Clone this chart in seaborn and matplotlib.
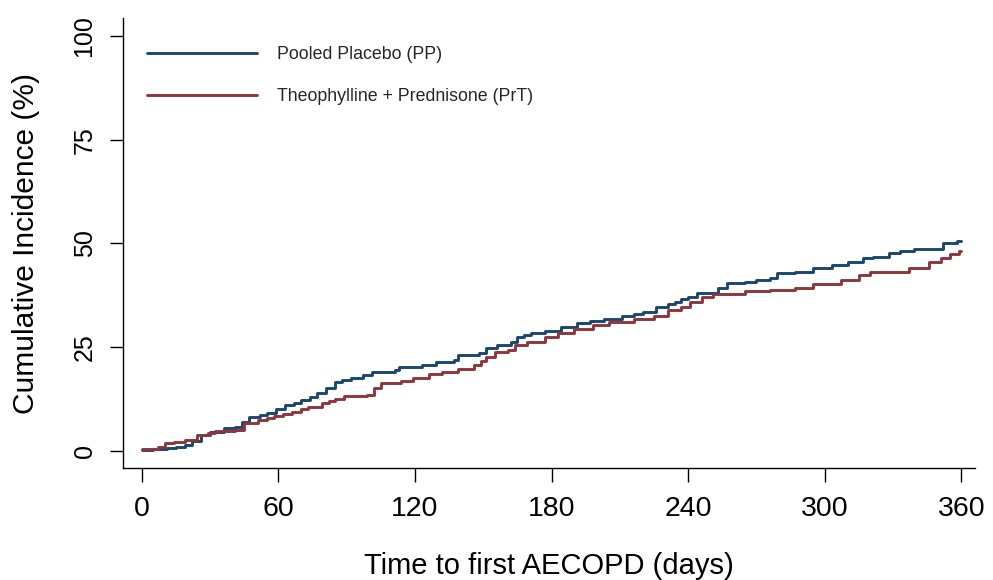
import matplotlib
matplotlib.use("Agg")
import matplotlib.pyplot as plt
import pandas as pd
import seaborn as sns

# Kaplan-Meier style cumulative incidence of first AECOPD, by treatment arm
days_pp = [0, 5, 11, 15, 19, 22, 26, 30, 36, 41, 44, 47, 52, 55, 59, 63, 67, 70,
           74, 77, 81, 85, 88, 92, 97, 101, 111, 113, 123, 129, 137, 139, 148,
           151, 156, 162, 165, 168, 171, 177, 184, 191, 197, 203, 211, 216, 220,
           226, 231, 234, 237, 240, 244, 253, 257, 265, 270, 276, 279, 287, 295,
           303, 310, 317, 321, 328, 333, 339, 352, 358, 360]
inc_pp = [0.2, 0.5, 0.7, 1.0, 1.4, 2.4, 3.9, 4.5, 5.5, 5.8, 7.0, 8.2, 8.7, 9.2,
          10.2, 11.1, 11.6, 12.3, 13.1, 14.0, 15.2, 16.6, 17.1, 17.6, 18.3, 19.0,
          19.5, 20.2, 20.7, 21.4, 21.9, 23.1, 23.6, 24.8, 25.5, 26.3, 27.5, 28.0,
          28.4, 28.9, 29.9, 30.8, 31.3, 31.8, 32.5, 33.0, 33.5, 34.7, 35.3, 35.9,
          36.5, 37.1, 38.1, 39.3, 40.5, 40.7, 41.2, 41.7, 42.9, 43.1, 44.1, 44.8,
          45.5, 46.5, 46.7, 47.7, 48.2, 48.7, 50.1, 50.6, 50.6]

days_prt = [0, 7, 10, 14, 19, 24, 29, 32, 41, 45, 51, 55, 58, 62, 66, 70, 73, 79,
            82, 85, 89, 99, 102, 105, 114, 119, 126, 132, 139, 146, 149, 151, 155,
            161, 164, 169, 177, 183, 190, 198, 205, 216, 225, 231, 237, 241, 246,
            251, 265, 276, 287, 295, 307, 315, 320, 337, 346, 351, 355, 359, 360]
inc_prt = [0.5, 1.0, 1.9, 2.2, 2.7, 3.9, 4.3, 4.8, 5.1, 6.7, 7.5, 7.9, 8.4, 8.9,
           9.4, 10.0, 10.6, 11.6, 12.0, 12.5, 13.3, 13.5, 15.2, 16.4, 16.9, 17.6,
           18.6, 19.0, 19.8, 20.7, 21.7, 22.7, 23.9, 24.3, 25.5, 26.3, 27.5, 28.4,
           29.4, 30.4, 31.1, 31.8, 32.5, 34.0, 34.7, 35.9, 37.1, 37.8, 38.6, 38.8,
           39.3, 40.2, 41.2, 42.4, 43.1, 44.1, 45.5, 46.5, 47.5, 48.2, 48.2]

groups = ["Pooled Placebo (PP)", "Theophylline + Prednisone (PrT)"]
colors = {groups[0]: "#1a476f", groups[1]: "#90353b"}

x_ticks = [0, 60, 120, 180, 240, 300, 360]
y_ticks = [0, 25, 50, 75, 100]

df = pd.concat([
    pd.DataFrame({"days": days_pp, "inc": inc_pp, "group": groups[0]}),
    pd.DataFrame({"days": days_prt, "inc": inc_prt, "group": groups[1]}),
], ignore_index=True)

sns.set_theme(style="ticks")
plt.rcParams["font.family"] = ["Liberation Sans", "DejaVu Sans"]

fig = plt.figure(figsize=(9.93, 5.80), dpi=100)
ax = fig.add_axes([123 / 993, 1 - 468 / 580, (975 - 123) / 993, (468 - 18) / 580])

sns.lineplot(data=df, x="days", y="inc", hue="group", hue_order=groups,
             palette=colors, estimator=None, sort=False,
             drawstyle="steps-post", linewidth=2.1, ax=ax, legend=False)

ax.set_xlim(-8.3, 366)
ax.set_ylim(-4.1, 104.3)
ax.set_xticks(x_ticks)
ax.set_yticks(y_ticks)
ax.set_xlabel("Time to first AECOPD (days)", fontsize=21, labelpad=22, color="black")
ax.set_ylabel("Cumulative Incidence (%)", fontsize=21.5, color="black")
ax.yaxis.set_label_coords(-0.097, 0.5)

ax.tick_params(axis="both", colors="black", width=1.0, length=10)
ax.tick_params(axis="x", labelsize=20.5, pad=10)
ax.tick_params(axis="y", labelsize=18, pad=9.5, length=9.5)
for lab in ax.get_yticklabels():
    lab.set_rotation(90)
    lab.set_va("center")

sns.despine(ax=ax)
for side in ("left", "bottom"):
    ax.spines[side].set_color("black")
    ax.spines[side].set_linewidth(1.0)

handles = [plt.Line2D([], [], color=colors[g], linewidth=2.1) for g in groups]
ax.legend(handles, groups, loc="upper left",
          bbox_to_anchor=(147 / 993, 1 - 46 / 580), bbox_transform=fig.transFigure,
          frameon=False, fontsize=12.8, handlelength=6.2, handletextpad=1.1,
          labelspacing=1.4, borderpad=0, borderaxespad=0)

fig.savefig("out.png", dpi=100)
